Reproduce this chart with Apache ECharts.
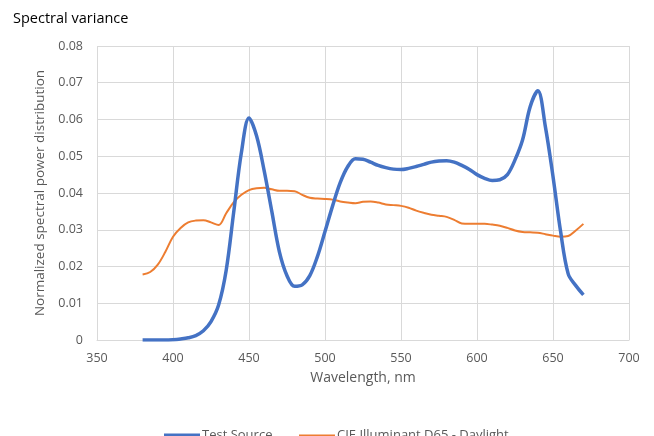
<!DOCTYPE html>
<html><head><meta charset="utf-8">
<script src="https://cdn.jsdelivr.net/npm/echarts@6/dist/echarts.min.js"></script>
<style>html,body{margin:0;padding:0;background:#fff}#c{width:654px;height:436px}</style>
</head><body><div id="c"></div>
<script>
const wavelengths = [380,385,390,395,400,405,410,415,420,425,430,435,440,445,450,455,460,465,470,475,480,485,490,495,500,505,510,515,520,525,530,535,540,545,550,555,560,565,570,575,580,585,590,595,600,605,610,615,620,625,630,635,640,645,650,655,660,665,670];
const testSource = [0,0,0,0,0.0001,0.0003,0.0006,0.0012,0.0025,0.005,0.0095,0.019,0.035,0.051,0.0604,0.0555,0.046,0.035,0.024,0.0175,0.0146,0.0150,0.0175,0.0227,0.0295,0.0365,0.0428,0.0472,0.0493,0.0492,0.0484,0.0475,0.0469,0.0465,0.0464,0.0467,0.0472,0.0478,0.0484,0.0487,0.0488,0.0484,0.0475,0.0464,0.0450,0.0440,0.0434,0.0436,0.0450,0.0490,0.0545,0.0635,0.0678,0.0580,0.0445,0.0295,0.0180,0.0148,0.0123];
const d65 = [0.0178,0.0185,0.0205,0.0240,0.0281,0.0305,0.0320,0.0325,0.0326,0.0320,0.0313,0.0345,0.0375,0.0395,0.0408,0.0413,0.0414,0.0410,0.0406,0.0406,0.0405,0.0395,0.0387,0.0385,0.0384,0.0382,0.0377,0.0374,0.0372,0.0376,0.0377,0.0374,0.0369,0.0367,0.0365,0.0360,0.0352,0.0346,0.0341,0.0338,0.0335,0.0327,0.0317,0.0316,0.0316,0.0316,0.0314,0.0311,0.0305,0.0298,0.0294,0.0293,0.0292,0.0288,0.0284,0.0281,0.0283,0.0298,0.0316];
const seriesNames = ['Test Source','CIE Illuminant D65 - Daylight'];
const FONT = '"Open Sans", "Noto Sans", sans-serif';
const chart = echarts.init(document.getElementById('c'));
chart.setOption({
  animation:false,
  backgroundColor:'#fff',
  title:{text:'Spectral variance',left:8,top:6,textStyle:{fontFamily:FONT,fontSize:14.5,fontWeight:'normal',color:'#000'}},
  grid:{left:97,right:25,top:46,bottom:96},
  xAxis:{type:'value',min:350,max:700,interval:50,
    name:'Wavelength, nm',nameLocation:'middle',nameGap:31,
    nameTextStyle:{fontFamily:FONT,fontSize:14,color:'#595959'},
    axisLine:{show:true,lineStyle:{color:'#d9d9d9'}},axisTick:{show:false},
    axisLabel:{fontFamily:FONT,fontSize:12.5,color:'#595959',margin:12},
    splitLine:{show:true,lineStyle:{color:'#d9d9d9'}}},
  yAxis:{type:'value',min:0,max:0.08,interval:0.01,
    name:'Normalized spectral power distribution',nameLocation:'middle',nameGap:49,
    nameTextStyle:{fontFamily:FONT,fontSize:13.5,color:'#595959'},
    axisLine:{show:false},axisTick:{show:false},
    axisLabel:{fontFamily:FONT,fontSize:12.5,color:'#595959',margin:14,formatter:v=>v===0?'0':v.toFixed(2)},
    splitLine:{show:true,lineStyle:{color:'#d9d9d9'}}},
  legend:[
    {data:[seriesNames[0]],left:159,top:424,itemWidth:36,itemHeight:4,icon:'rect',
     textStyle:{fontFamily:FONT,fontSize:13,color:'#595959',padding:[0,0,0,-3]}},
    {data:[seriesNames[1]],left:294,top:424,itemWidth:36,itemHeight:2,icon:'rect',
     textStyle:{fontFamily:FONT,fontSize:13,color:'#595959',padding:[0,0,0,-3]}}
  ],
  series:[
    {name:seriesNames[0],type:'line',smooth:0.35,symbol:'none',data:wavelengths.map((w,i)=>[w,testSource[i]]),
     lineStyle:{color:'#4472C4',width:3.5},itemStyle:{color:'#4472C4'},z:3},
    {name:seriesNames[1],type:'line',smooth:0.35,symbol:'none',data:wavelengths.map((w,i)=>[w,d65[i]]),
     lineStyle:{color:'#ED7D31',width:2},itemStyle:{color:'#ED7D31'},z:2}
  ]
});
</script></body></html>
